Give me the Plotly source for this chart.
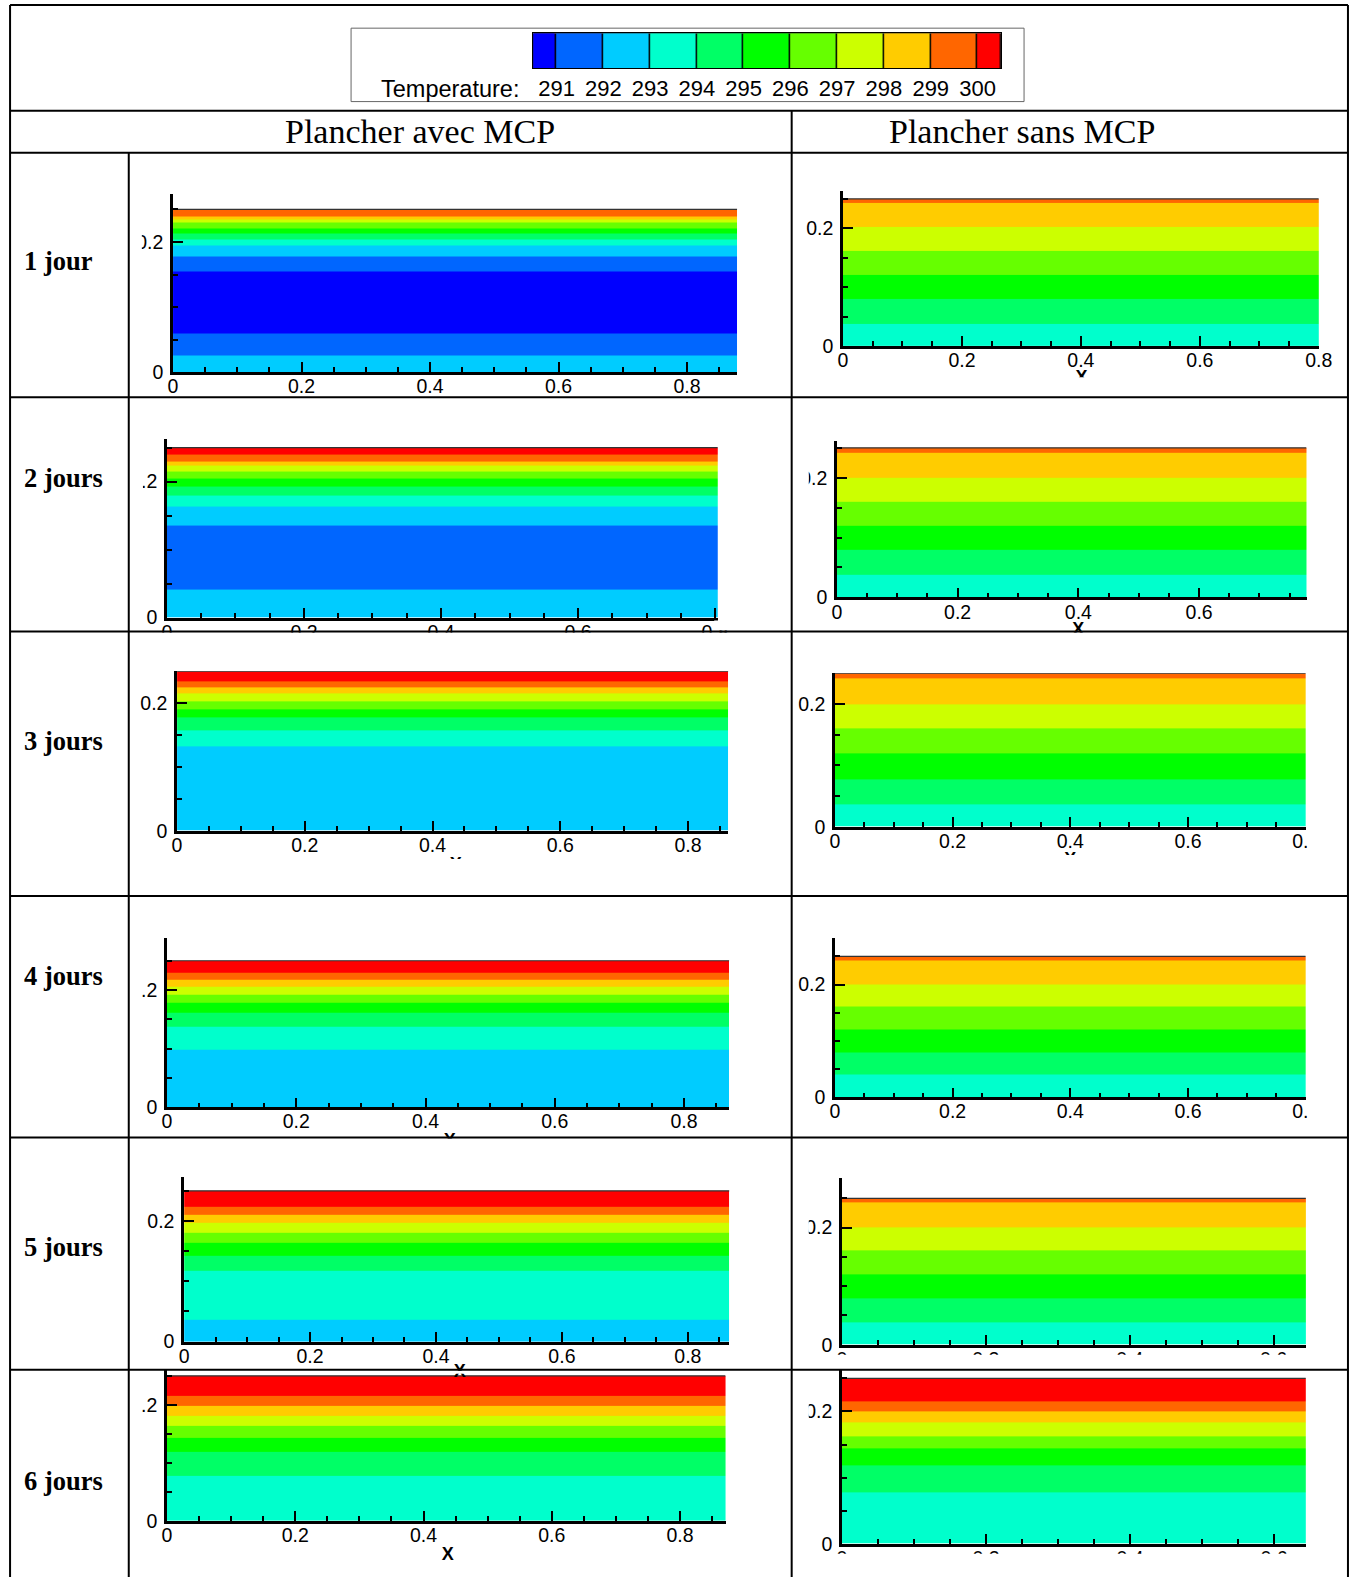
import plotly.graph_objects as go

# ---------------- data ----------------
COLORS = ["#0000FF", "#0066FF", "#00CCFF", "#00FFCC", "#00FF66", "#00FF00",
          "#66FF00", "#CCFF00", "#FFCC00", "#FF6600", "#FF0000"]
TEMP_CLASSES = [290, 291, 292, 293, 294, 295, 296, 297, 298, 299, 300]
LEGEND_EDGES = [290.5, 291, 292, 293, 294, 295, 296, 297, 298, 299, 300, 300.5]
LEGEND_TICKS = [291, 292, 293, 294, 295, 296, 297, 298, 299, 300]
LEGEND_TITLE = "Temperature:"

ROW_LABELS = ["1 jour", "2 jours", "3 jours", "4 jours", "5 jours", "6 jours"]
COL_TITLES = ["Plancher avec MCP", "Plancher sans MCP"]

# band edges along y (m) and temperature class of each band (bottom -> top)
MCP_EDGES = [
    [0, 0.026, 0.060, 0.155, 0.178, 0.194, 0.204, 0.213, 0.2215, 0.230, 0.235, 0.2395, 0.25],
    [0, 0.041, 0.136, 0.163, 0.180, 0.193, 0.204, 0.215, 0.223, 0.230, 0.240, 0.25],
    [0, 0.133, 0.158, 0.178, 0.191, 0.203, 0.215, 0.225, 0.235, 0.25],
    [0, 0.098, 0.1375, 0.161, 0.178, 0.192, 0.206, 0.218, 0.2295, 0.25],
    [0, 0.036, 0.117, 0.143, 0.1635, 0.180, 0.197, 0.210, 0.223, 0.25],
    [0, 0.078, 0.119, 0.143, 0.1645, 0.181, 0.198, 0.215, 0.25],
]
MCP_TEMPS = [
    [292, 291, 290, 291, 292, 293, 294, 295, 296, 297, 298, 299],
    [292, 291, 292, 293, 294, 295, 296, 297, 298, 299, 300],
    [292, 293, 294, 295, 296, 297, 298, 299, 300],
    [292, 293, 294, 295, 296, 297, 298, 299, 300],
    [292, 293, 294, 295, 296, 297, 298, 299, 300],
    [293, 294, 295, 296, 297, 298, 299, 300],
]
MCP_XMAX = [0.878, 0.804, 0.863, 0.870, 0.866, 0.871]

SANS_EDGES = [
    [0, 0.037, 0.080, 0.120, 0.161, 0.203, 0.244, 0.25],
    [0, 0.038, 0.080, 0.120, 0.160, 0.200, 0.242, 0.25],
    [0, 0.037, 0.078, 0.120, 0.161, 0.200, 0.2425, 0.25],
    [0, 0.040, 0.080, 0.120, 0.161, 0.200, 0.243, 0.25],
    [0, 0.039, 0.079, 0.120, 0.161, 0.200, 0.243, 0.25],
    [0, 0.077, 0.119, 0.1435, 0.163, 0.183, 0.1995, 0.216, 0.25],
]
SANS_TEMPS = [
    [293, 294, 295, 296, 297, 298, 299],
    [293, 294, 295, 296, 297, 298, 299],
    [293, 294, 295, 296, 297, 298, 299],
    [293, 294, 295, 296, 297, 298, 299],
    [293, 294, 295, 296, 297, 298, 299],
    [293, 294, 295, 296, 297, 298, 299, 300],
]
SANS_XMAX = [0.8, 0.778, 0.8, 0.8, 0.645, 0.644]

# ---------------- layout geometry (reference pixels) ----------------
W, H = 1354, 1577
SX, SY = 1354 / 1346, 1577 / 1568


def fx(px):
    return px * SX / W


def fy(py):
    return 1 - py * SY / H


# (x0 px, px per unit x, y0 px, px per unit y, y axis top value)
MCP_GEOM = [
    (172, 638.75, 370, 647, 0.274),
    (166, 681.0, 614, 676, 0.262),
    (176, 635.0, 826, 634, 0.250),
    (166, 642.5, 1101, 583, 0.289),
    (183, 626.0, 1334, 600, 0.273),
    (166, 637.5, 1512, 576, 0.260),
]
SANS_GEOM = [
    (838, 591.25, 344, 585, 0.263),
    (832, 600.0, 594, 595, 0.262),
    (830, 585.0, 822, 610, 0.250),
    (830, 585.0, 1091, 560, 0.282),
    (837, 715.0, 1337, 582, 0.284),
    (837, 716.0, 1535, 658, 0.262),
]

colorscale = []
n = len(COLORS)
for i, c in enumerate(COLORS):
    colorscale.append([i / n, c])
    colorscale.append([(i + 1) / n, c])

FONT_SANS = "Liberation Sans, Arial, sans-serif"
FONT_SERIF = "Liberation Serif, Times New Roman, serif"

fig = go.Figure()
layout = dict(
    width=W, height=H,
    margin=dict(l=0, r=0, t=0, b=0, pad=0, autoexpand=False),
    paper_bgcolor="white", plot_bgcolor="white", showlegend=False,
    hovermode=False,
)
shapes = []
annotations = []

ax = [0]


def add_panel(edges, temps, xmax, geom):
    ax[0] += 1
    k = ax[0]
    x0, kx, y0, ky, ytop = geom
    xs = "x" if k == 1 else f"x{k}"
    ys = "y" if k == 1 else f"y{k}"
    fig.add_trace(go.Heatmap(
        z=[[t] for t in temps], x=[0, xmax], y=edges,
        colorscale=colorscale, zmin=289.5, zmax=300.5, showscale=False,
        xaxis=xs, yaxis=ys, hoverinfo="skip"))
    fig.add_trace(go.Scatter(
        x=[0, xmax], y=[edges[-1], edges[-1]], mode="lines",
        line=dict(color="#333333", width=1.2), xaxis=xs, yaxis=ys,
        hoverinfo="skip"))
    tickfont = dict(family=FONT_SANS, size=19.5, color="black")
    minor = dict(ticks="inside", ticklen=5, tickwidth=1.5, tickcolor="black",
                 tickmode="linear", tick0=0, dtick=0.05, showgrid=False)
    layout["xaxis" if k == 1 else f"xaxis{k}"] = dict(
        domain=[fx(x0), fx(x0 + xmax * kx)], range=[0, xmax],
        anchor=ys, showline=True, linecolor="black", linewidth=2.5,
        ticks="inside", ticklen=10, tickwidth=2.2, tickcolor="black",
        tickmode="linear", tick0=0, dtick=0.2, minor=minor, automargin=False,
        ticklabelstandoff=-5,
        showgrid=False, zeroline=False, tickfont=tickfont, fixedrange=True)
    layout["yaxis" if k == 1 else f"yaxis{k}"] = dict(
        domain=[fy(y0), fy(y0 - ytop * ky)], range=[0, ytop],
        anchor=xs, showline=True, linecolor="black", linewidth=2.5,
        ticks="inside", ticklen=10, tickwidth=2.2, tickcolor="black",
        tickmode="array", tickvals=[0, 0.2], ticktext=["0", "0.2"],
        ticklabelstandoff=3, automargin=False,
        minor=minor, showgrid=False, zeroline=False, tickfont=tickfont,
        fixedrange=True)


for r in range(6):
    add_panel(MCP_EDGES[r], MCP_TEMPS[r], MCP_XMAX[r], MCP_GEOM[r])
    add_panel(SANS_EDGES[r], SANS_TEMPS[r], SANS_XMAX[r], SANS_GEOM[r])

# ---------------- legend colour bar ----------------
ax[0] += 1
k = ax[0]
shapes.append(dict(type="rect", xref="paper", yref="paper", layer="below",
                   x0=fx(530), x1=fx(995), y0=fy(68), y1=fy(33),
                   fillcolor="black", line=dict(width=0)))
fig.add_trace(go.Heatmap(
    z=[TEMP_CLASSES], x=LEGEND_EDGES, y=[0, 1], colorscale=colorscale,
    zmin=289.5, zmax=300.5, showscale=False, xgap=1.5,
    xaxis=f"x{k}", yaxis=f"y{k}", hoverinfo="skip"))
layout[f"xaxis{k}"] = dict(
    domain=[fx(530), fx(995)], range=[LEGEND_EDGES[0], LEGEND_EDGES[-1]],
    anchor=f"y{k}", showline=True, mirror=True, linecolor="black", linewidth=1.2,
    tickmode="array", tickvals=LEGEND_TICKS, ticks="", showgrid=False,
    zeroline=False, ticklabelstandoff=0, automargin=False,
    tickfont=dict(family=FONT_SANS, size=22, color="black"), fixedrange=True)
layout[f"yaxis{k}"] = dict(
    domain=[fy(68), fy(33)], range=[0, 1], anchor=f"x{k}", showline=True,
    mirror=True, linecolor="black", linewidth=1.2, showticklabels=False,
    ticks="", showgrid=False, zeroline=False, fixedrange=True, automargin=False)
annotations.append(dict(text=LEGEND_TITLE, xref="paper", yref="paper",
                        x=fx(518), y=fy(88), xanchor="right", yanchor="middle",
                        showarrow=False,
                        font=dict(family=FONT_SANS, size=23.5, color="black")))
shapes.append(dict(type="rect", xref="paper", yref="paper",
                   x0=fx(349), x1=fx(1018), y0=fy(101), y1=fy(28),
                   line=dict(color="#666666", width=1)))

# ---------------- texts ----------------
for title, cx in zip(COL_TITLES, [418, 1016]):
    annotations.append(dict(text=title, xref="paper", yref="paper",
                            x=fx(cx), y=fy(131), xanchor="center", yanchor="middle",
                            showarrow=False,
                            font=dict(family=FONT_SERIF, size=34, color="black")))
for lab, cy in zip(ROW_LABELS, [260, 475, 737, 970, 1240, 1473]):
    annotations.append(dict(text=f"<b>{lab}</b>", xref="paper", yref="paper",
                            x=fx(22), y=fy(cy), xanchor="left", yanchor="middle",
                            showarrow=False,
                            font=dict(family=FONT_SERIF, size=26.5, color="black")))

# x-axis titles (as shape labels so that cropping masks can cover them)
for (cx, cy) in [(1075, 373), (1072, 623), (453, 857), (1064, 852),
                 (447, 1132), (457, 1361), (445, 1543)]:
    shapes.append(dict(type="rect", xref="paper", yref="paper", layer="above",
                       x0=fx(cx - 15), x1=fx(cx + 15), y0=fy(cy + 10), y1=fy(cy - 10),
                       line=dict(width=0), fillcolor="rgba(0,0,0,0)",
                       label=dict(text="<b>X</b>", textposition="middle center",
                                  font=dict(family=FONT_SANS, size=18, color="black"))))

# cropping masks of the original pasted pictures
MASKS = [
    (129, 153, 141, 394),
    (129, 396, 142, 627), (710, 617, 787, 627), (129, 629, 1339, 648),
    (129, 854, 787, 890),
    (129, 892, 141, 1130), (129, 1132, 787, 1150),
    (420, 1363, 500, 1366),
    (129, 1363, 141, 1577),
    (789, 375, 1339, 394),
    (789, 396, 804, 627),
    (1300, 828, 1339, 890), (789, 850, 1339, 890),
    (1300, 1095, 1339, 1130),
    (789, 1132, 804, 1361), (789, 1347, 1339, 1361),
    (789, 1363, 804, 1577), (789, 1545, 1339, 1577),
]
for (a, b, c, d) in MASKS:
    shapes.append(dict(type="rect", xref="paper", yref="paper", layer="above",
                       x0=fx(a), x1=fx(c), y0=fy(d), y1=fy(b),
                       fillcolor="white", line=dict(width=0)))

# table grid
LW = 2
for yy in [5, 110, 152, 395, 628, 891, 1131, 1362]:
    shapes.append(dict(type="line", xref="paper", yref="paper", layer="above",
                       x0=fx(10), x1=fx(1340), y0=fy(yy), y1=fy(yy),
                       line=dict(color="black", width=LW)))
for xx, ya in [(10, 5), (1340, 5), (787, 110), (128, 152)]:
    shapes.append(dict(type="line", xref="paper", yref="paper", layer="above",
                       x0=fx(xx), x1=fx(xx), y0=fy(ya), y1=fy(1577),
                       line=dict(color="black", width=LW)))

layout["shapes"] = shapes
layout["annotations"] = annotations
fig.update_layout(**layout)
fig.write_html("out.html", config={"displayModeBar": False},
               post_script="document.body.style.margin='0';")
